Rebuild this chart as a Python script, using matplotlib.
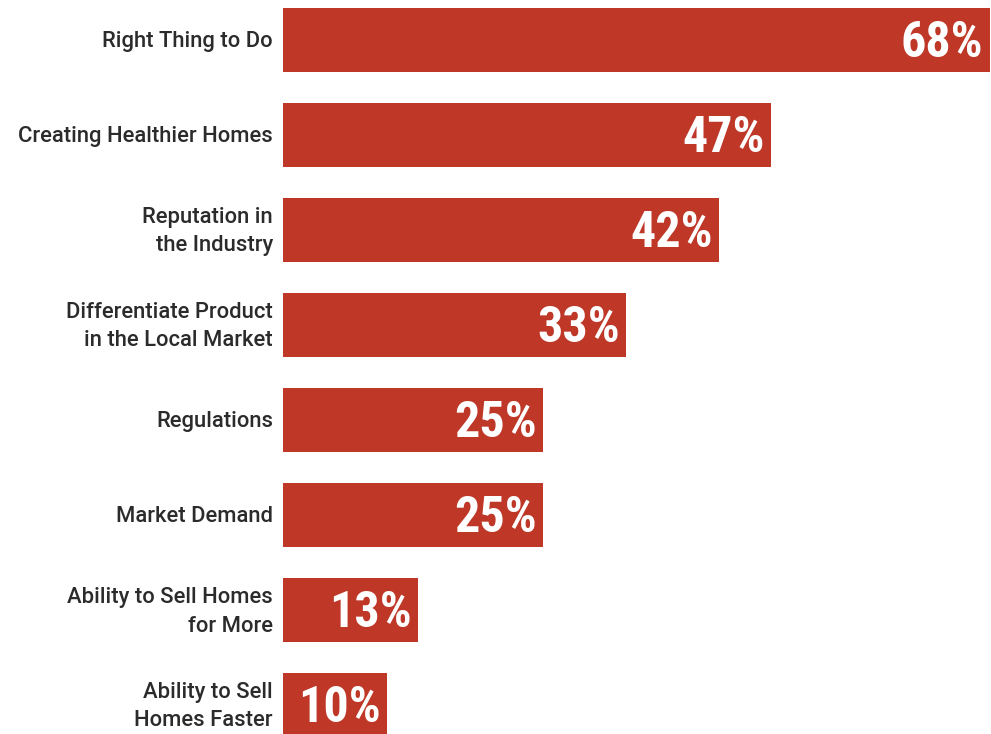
import matplotlib.pyplot as plt

# Survey results: reasons for building healthier homes
reasons = [
    "Right Thing to Do",
    "Creating Healthier Homes",
    "Reputation in\nthe Industry",
    "Differentiate Product\nin the Local Market",
    "Regulations",
    "Market Demand",
    "Ability to Sell Homes\nfor More",
    "Ability to Sell\nHomes Faster",
]
percent = [68, 47, 42, 33, 25, 25, 13, 10]

bar_color = "#BE3727"
text_color = "#2B2B2B"

fig = plt.figure(figsize=(9.91, 7.34), dpi=100)
ax = fig.add_axes([283 / 991, 0, 708 / 991, 1])

ypos = list(range(len(reasons)))
ax.barh(ypos, percent, height=64 / 95, color=bar_color)

ax.set_xlim(0, 708 / 10.39)
ax.set_ylim(7 + 29 / 95, -40 / 95)
ax.axis("off")

narrow = ["Liberation Sans Narrow", "DejaVu Sans Condensed",
          "Roboto Condensed", "Open Sans Condensed", "Roboto"]

for y, label, p in zip(ypos, reasons, percent):
    ax.text(-10 / 10.39, y + 0.02, label, ha="right", va="center",
            fontsize=15.8, color=text_color, linespacing=1.45,
            family=["Roboto", "DejaVu Sans"], fontweight="medium")
    ax.text(p - 0.6, y + 0.04, f"{p}%", ha="right", va="center",
            fontsize=36, color="white", fontweight="bold",
            fontstretch="condensed", family=narrow)

fig.savefig("out.png", dpi=100)
